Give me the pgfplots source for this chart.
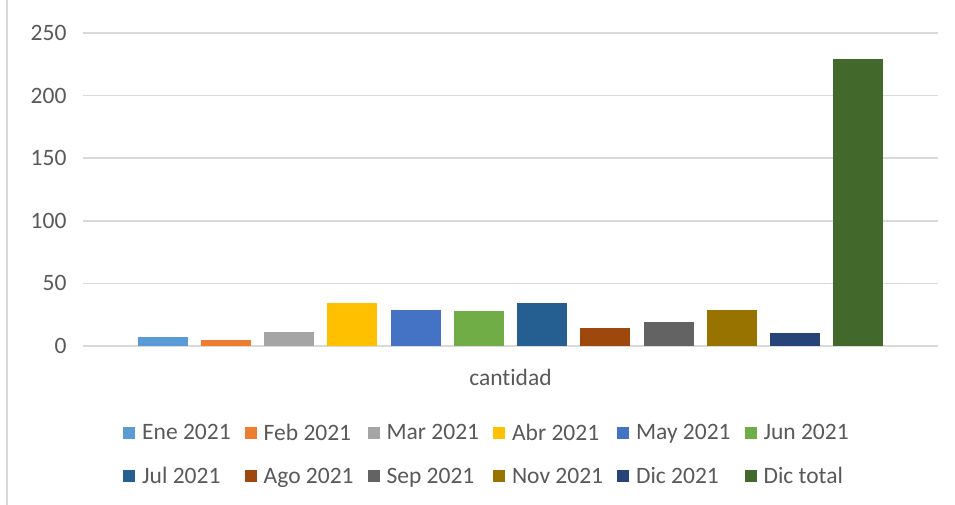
\documentclass[border=0pt]{standalone}
\usepackage{pgfplots}
\pgfplotsset{compat=1.18}
\usepackage{fontspec}
\setmainfont{Carlito}[RawFeature={-liga;-clig;-calt}]
\definecolor{c1}{HTML}{5B9BD5}
\definecolor{c2}{HTML}{ED7D31}
\definecolor{c3}{HTML}{A5A5A5}
\definecolor{c4}{HTML}{FFC000}
\definecolor{c5}{HTML}{4472C4}
\definecolor{c6}{HTML}{70AD47}
\definecolor{c7}{HTML}{255E91}
\definecolor{c8}{HTML}{9E480E}
\definecolor{c9}{HTML}{636363}
\definecolor{c10}{HTML}{997300}
\definecolor{c11}{HTML}{264478}
\definecolor{c12}{HTML}{43682B}
\definecolor{txt}{HTML}{595959}
\definecolor{grd}{HTML}{D9D9D9}
\begin{document}
\begin{tikzpicture}
\path[use as bounding box] (0,0) rectangle (955pt,505pt);
\draw[grd, line width=2.5pt] (7pt,0) -- (7pt,505pt);
\begin{axis}[
  at={(83pt,159pt)}, anchor=south west,
  scale only axis, width=855pt, height=313pt,
  xmin=-0.26, xmax=13.26, ymin=0, ymax=250,
  ytick={0,50,...,250},
  xtick={6.5}, xticklabels={cantidad},
  ymajorgrids, grid style={grd, line width=1.6pt},
  axis line style={draw=none}, major tick length=0pt,
  /pgf/number format/assume math mode=true,
  ticklabel style={font=\fontsize{23.5}{28}\selectfont, text=txt},
  yticklabel style={xshift=-13pt},
  xticklabel style={yshift=-20pt},
  legend style={at={(0.4725,-0.235)}, anchor=north, draw=none,
    font=\fontsize{23.5}{28}\selectfont, text=txt,
    legend columns=6, row sep=22pt,
    /tikz/every odd column/.append style={column sep=5pt},
    /tikz/every even column/.append style={column sep=12pt}},
  legend cell align=left,
  legend image code/.code={\fill[#1] (0pt,-6pt) rectangle (12pt,6pt);},
  every axis plot/.append style={ybar, bar width=0.79, bar shift=0pt, draw=none},
]
\addplot[fill=c1] coordinates {(1,7)};
\addplot[fill=c2] coordinates {(2,5)};
\addplot[fill=c3] coordinates {(3,11)};
\addplot[fill=c4] coordinates {(4,34)};
\addplot[fill=c5] coordinates {(5,29)};
\addplot[fill=c6] coordinates {(6,28)};
\addplot[fill=c7] coordinates {(7,34)};
\addplot[fill=c8] coordinates {(8,14)};
\addplot[fill=c9] coordinates {(9,19)};
\addplot[fill=c10] coordinates {(10,29)};
\addplot[fill=c11] coordinates {(11,10)};
\addplot[fill=c12] coordinates {(12,229)};
\legend{Ene 2021, Feb 2021, Mar 2021, Abr 2021, May 2021, Jun 2021,
        Jul 2021, Ago 2021, Sep 2021, Nov 2021, Dic 2021, Dic total}
\end{axis}
\end{tikzpicture}
\end{document}
